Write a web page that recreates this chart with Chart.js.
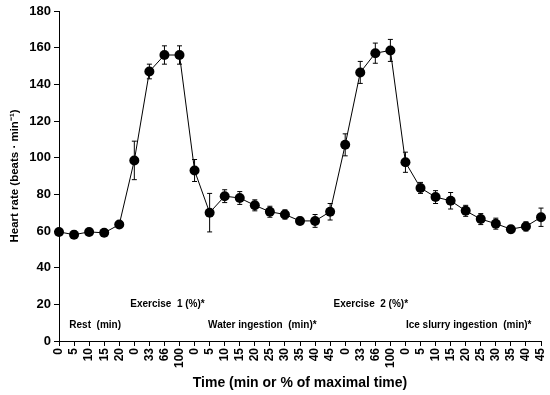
<!DOCTYPE html>
<html>
<head>
<meta charset="utf-8">
<script src="https://cdn.jsdelivr.net/npm/chart.js@4"></script>
<style>
  html, body { margin: 0; padding: 0; background: #fff; }
  #wrap { width: 550px; height: 395px; }
</style>
</head>
<body>
<div id="wrap"><canvas id="HeartRateChart"></canvas></div>
<script>
// x categories (min or % of maximal time)
var timeLabels = ['0', '5', '10', '15', '20',
    '0', '33', '66', '100',
    '0', '5', '10', '15', '20', '25', '30', '35', '40', '45',
    '0', '33', '66', '100',
    '0', '5', '10', '15', '20', '25', '30', '35', '40', '45'];

// heart rate means (beats/min)
var heartRate = [59.5, 58, 59.5, 59, 63.5,
    98.5, 147, 156, 156,
    93, 70, 79, 78, 74, 70.5, 69, 65.5, 65.5, 70.5,
    107, 146.5, 157, 158.5,
    97.5, 83.5, 78.5, 76.5, 71, 66.5, 64, 61, 62.5, 67.5];

// +/- error (SD)
var heartRateErr = [1.5, 2, 1.5, 1, 1,
    10.5, 4, 5, 5,
    6, 10.5, 3.5, 3.5, 3, 3, 2.5, 2, 3.5, 4.5,
    6, 6, 5.5, 6,
    5.5, 3, 3.5, 4.5, 3, 3, 3, 2, 2.5, 5];

var phaseNames = ['Rest  (min)', 'Exercise  1 (%)*', 'Water ingestion  (min)*', 'Exercise  2 (%)*', 'Ice slurry ingestion  (min)*'];

var errorBars = {
    id: 'errorBars',
    beforeDatasetsDraw: function (chart) {
        var ctx = chart.ctx;
        var xs = chart.scales.x, ys = chart.scales.y;
        ctx.save();
        ctx.strokeStyle = '#000';
        ctx.lineWidth = 1;
        heartRate.forEach(function (v, i) {
            var x = xs.getPixelForValue(i);
            var top = ys.getPixelForValue(v + heartRateErr[i]);
            var bot = ys.getPixelForValue(v - heartRateErr[i]);
            ctx.beginPath();
            ctx.moveTo(x, top); ctx.lineTo(x, bot);
            ctx.moveTo(x - 2.5, top); ctx.lineTo(x + 2.5, top);
            ctx.moveTo(x - 2.5, bot); ctx.lineTo(x + 2.5, bot);
            ctx.stroke();
        });
        ctx.restore();
    }
};

// phase captions inside the plot, placed at (category index, value)
var phaseSpots = [[2.4, 8.7], [7.2, 20.2], [13.5, 8.7], [20.7, 20.2], [27.2, 8.7]];
var phaseText = {
    id: 'phaseText',
    afterDraw: function (chart) {
        var ctx = chart.ctx;
        var xs = chart.scales.x, ys = chart.scales.y;
        ctx.save();
        ctx.fillStyle = '#000';
        ctx.font = 'bold 10px "Liberation Sans", Arial, sans-serif';
        ctx.textAlign = 'center';
        ctx.textBaseline = 'middle';
        phaseNames.forEach(function (t, k) {
            var p = phaseSpots[k];
            var x = xs.left + p[0] * (xs.right - xs.left) / (timeLabels.length - 1);
            ctx.fillText(t, x, ys.getPixelForValue(p[1]));
        });
        ctx.restore();
    }
};

Chart.defaults.font.family = '"Liberation Sans", Arial, sans-serif';
Chart.defaults.color = '#000';

var ctx = document.getElementById('HeartRateChart').getContext('2d');
window.MyHeartChart = new Chart(ctx, {
    type: 'line',
    data: {
        labels: timeLabels,
        datasets: [{
            data: heartRate,
            borderColor: '#000',
            borderWidth: 1,
            backgroundColor: '#000',
            pointRadius: 5,
            pointBorderWidth: 0,
            pointBackgroundColor: '#000',
            tension: 0
        }]
    },
    options: {
        responsive: true,
        maintainAspectRatio: false,
        animation: false,
        layout: { padding: { top: 11, right: 9, left: 8, bottom: 0 } },
        plugins: {
            legend: { display: false },
            tooltip: { enabled: false }
        },
        scales: {
            x: {
                offset: false,
                grid: { drawOnChartArea: false, drawTicks: true, tickLength: 5, color: '#000' },
                border: { color: '#000', width: 1 },
                ticks: {
                    autoSkip: false,
                    minRotation: 90,
                    maxRotation: 90,
                    padding: 2,
                    font: { size: 12, weight: 'bold' }
                },
                title: {
                    display: true,
                    text: 'Time (min or % of maximal time)',
                    font: { size: 14, weight: 'bold' },
                    padding: { top: 2, bottom: 3 }
                },
                afterFit: function (scale) {
                    scale.height = 54;
                    scale.paddingLeft = 0;
                    scale.paddingRight = 0;
                }
            },
            y: {
                min: 0,
                max: 180,
                grid: { drawOnChartArea: false, drawTicks: true, tickLength: 5, color: '#000' },
                border: { color: '#000', width: 1 },
                ticks: {
                    stepSize: 20,
                    padding: 3,
                    font: { size: 13, weight: 'bold' }
                },
                title: {
                    display: true,
                    text: 'Heart rate (beats \u00b7 min\u207b\u00b9)',
                    font: { size: 11.5, weight: 'bold' },
                    padding: { top: 0, bottom: 4 }
                },
                afterFit: function (scale) {
                    scale.width = 51;
                    scale.paddingTop = 0;
                    scale.paddingBottom = 0;
                }
            }
        }
    },
    plugins: [errorBars, phaseText]
});
</script>
</body>
</html>
